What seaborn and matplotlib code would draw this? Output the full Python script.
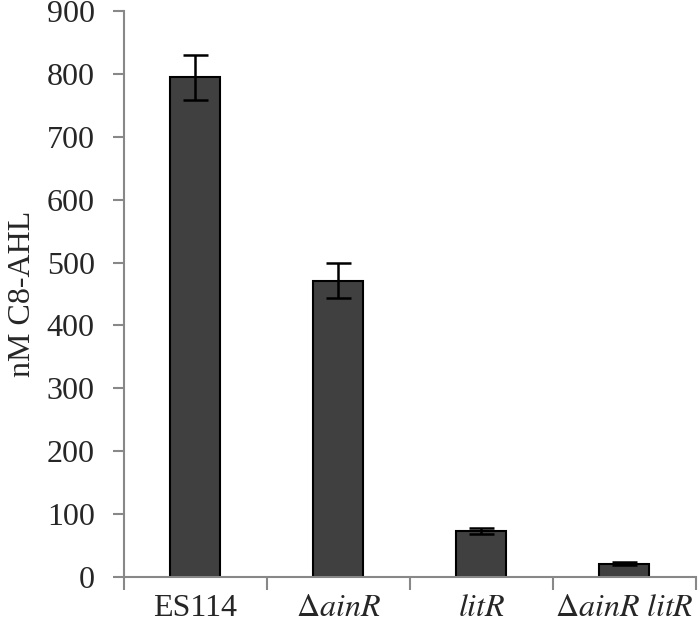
import matplotlib
matplotlib.use("Agg")
import matplotlib.pyplot as plt
import seaborn as sns
import pandas as pd

# values
strains = ['ES114', 'dainR', 'litR', 'dainR litR']
tick_labels = ['ES114', r'$\Delta\mathit{ainR}$', r'$\mathit{litR}$', r'$\Delta\mathit{ainR\ litR}$']
c8_ahl = [795, 471, 73, 21]
c8_err = [36, 28, 5, 2]

df = pd.DataFrame({'strain': strains, 'nM': c8_ahl})

sns.set_style('white')
plt.rcParams['font.family'] = ['Liberation Serif', 'DejaVu Serif']
plt.rcParams['mathtext.fontset'] = 'stix'

fig = plt.figure(figsize=(7, 6.27), dpi=100)
ax = fig.add_axes([0.177, 0.080, 0.817, 0.902])

sns.barplot(data=df, x='strain', y='nM', color='#404040', saturation=1,
            width=0.35, edgecolor='black', linewidth=1.5, errorbar=None, ax=ax)
ax.errorbar(range(len(strains)), c8_ahl, yerr=c8_err, fmt='none',
            ecolor='black', elinewidth=1.8, capsize=9, capthick=1.8)

ax.set_ylim(0, 900)
ax.set_xlim(-0.5, 3.5)
ax.set_yticks(range(0, 901, 100))
ax.set_xticks(range(len(strains)))
ax.set_xticklabels(tick_labels)
ax.set_xticks([-0.5, 0.5, 1.5, 2.5, 3.5], minor=True)
ax.tick_params(axis='x', which='major', bottom=True, length=0, pad=12, labelsize=23)
ax.tick_params(axis='x', which='minor', bottom=True, length=9, width=1.5, color='#888888', direction='out')
ax.tick_params(axis='y', left=True, length=8, width=1.5, color='#888888', direction='out', labelsize=23, pad=13)
ax.set_xlabel('')
ax.set_ylabel('nM C8-AHL', fontsize=23, labelpad=6)
ax.yaxis.set_label_coords(-0.152, 0.5)

sns.despine(ax=ax)
for s in ['left', 'bottom']:
    ax.spines[s].set_color('#888888')
    ax.spines[s].set_linewidth(1.5)

fig.savefig('out.png', dpi=100)
